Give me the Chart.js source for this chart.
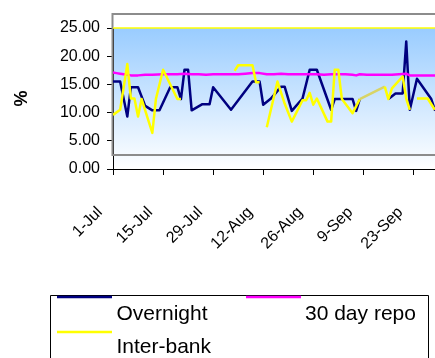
<!DOCTYPE html>
<html>
<head>
<meta charset="utf-8">
<script src="https://cdn.jsdelivr.net/npm/chart.js@4.4.1/dist/chart.umd.min.js"></script>
<style>
  html, body { margin: 0; padding: 0; background: #fff; overflow: hidden; width: 435px; height: 358px; }
  #wrap { position: relative; width: 442px; height: 358px; }
</style>
</head>
<body>
<div id="wrap"><canvas id="rates"></canvas></div>
<script>
// Axis labels, every 14 days starting 1 July
const tickLabels = ['1-Jul', '15-Jul', '29-Jul', '12-Aug', '26-Aug', '9-Sep', '23-Sep'];
const seriesNames = ['Overnight', '30 day repo', 'Inter-bank'];
const seriesColors = ['#000080', '#FF00FF', '#FFFF00'];

// Days counted from 1 July; null = no quote
const overnightDays = [0, 2, 4, 5, 7, 9, 11, 13, 16, 18, 19, 20, 21, 22, 25, 27, 28, 33, 39, 41, 42, 44, 45, 47, 48, 50, 53, 55, 57, 61, 62, 67, 68, 69, 73, 77, 79, 81, 82, 83, 85, 89, 90, 91];
const overnightRates = [15.5, 15.5, 9.3, 14.5, 14.5, 11.2, 10.4, 10.4, 14.5, 14.5, 12.4, 17.6, 17.6, 10.4, 11.5, 11.5, 14.5, 10.5, 15.5, 15.5, 11.4, 12.4, 13.1, 14.6, 14.6, 10.3, 12.5, 17.6, 17.6, 10.5, 12.4, 12.4, 10.3, 12.4, null, 12.4, 13.4, 13.4, 22.6, 10.5, 16.0, 12.4, 10.5, 10.3];

const repoDays = [0, 1, 2, 3, 4, 5, 7, 9, 11, 14, 16, 18, 20, 22, 24, 26, 28, 30, 32, 35, 37, 39, 41, 43, 45, 47, 49, 51, 53, 55, 57, 59, 61, 63, 65, 67, 68, 69, 71, 74, 76, 78, 80, 82, 83, 85, 88, 91];
const repoRates = [17.1, 17.0, 16.9, 16.8, 16.7, 16.6, 16.6, 16.7, 16.7, 16.8, 16.8, 16.8, 16.9, 16.8, 16.8, 16.7, 16.8, 16.8, 16.8, 16.8, 16.9, 17.0, 17.0, 16.8, 16.8, 16.9, 16.8, 16.8, 16.8, 16.8, 16.8, 16.7, 16.8, 16.8, 16.8, 16.7, 16.6, 16.8, 16.7, 16.7, 16.7, 16.7, 16.8, 16.9, 16.6, 16.6, 16.6, 16.6];

const interbankDays = [0, 2, 4, 5, 6, 7, 8, 11, 12, 14, 18, 19, 26, 34, 35, 39, 40, 41, 42, 43, 46, 48, 50, 53, 54, 55, 56, 57, 60, 61, 62, 63, 64, 67, 69, 76, 77, 78, 81, 82, 83, 84, 85, 88, 90];
const interbankRates = [9.6, 10.5, 18.6, 12.5, 12.5, 9.3, 12.4, 6.4, 12.4, 17.6, 12.4, 12.4, null, 17.4, 18.4, 18.4, 15.4, 15.4, null, 7.4, 15.5, 11.6, 8.4, 12.2, 12.2, 13.5, 11.4, 12.5, 8.4, 8.4, 17.6, 17.6, 12.4, 9.9, 12.4, 14.6, 12.4, 14.3, 16.4, 12.5, 10.5, null, 12.5, 12.5, 10.5];

const FONT = "'Liberation Sans', Arial, sans-serif";
Chart.defaults.font.family = FONT;
Chart.defaults.color = '#000';

const toPoints = (days, vals) => days.map((d, i) => ({ x: d, y: vals[i] }));

// Plot background, frame and legend
const decor = {
  id: 'decor',
  beforeDraw(chart) {
    const { ctx, chartArea: a, scales: { y } } = chart;
    const top = y.getPixelForValue(25), bottom = y.getPixelForValue(0);
    const g = ctx.createLinearGradient(0, top, 0, bottom);
    g.addColorStop(0, '#99CCFF');
    g.addColorStop(1, '#FFFFFF');
    ctx.save();
    ctx.fillStyle = g;
    ctx.fillRect(a.left, top, a.right - a.left, bottom - top);
    ctx.restore();
  },
  beforeDatasetsDraw(chart) {
    const { ctx, chartArea: a, scales: { y } } = chart;
    const fTop = y.getPixelForValue(27.5), fBottom = y.getPixelForValue(2.5);
    ctx.save();
    ctx.strokeStyle = '#8C8C8C';
    ctx.lineWidth = 2;
    ctx.beginPath();
    ctx.moveTo(a.right + 10, fTop);
    ctx.lineTo(a.left - 0.5, fTop);
    ctx.lineTo(a.left - 0.5, fBottom);
    ctx.lineTo(a.right + 10, fBottom);
    ctx.stroke();
    const y25 = y.getPixelForValue(25);
    ctx.strokeStyle = '#FFFF00';
    ctx.lineWidth = 1.5;
    ctx.beginPath();
    ctx.moveTo(a.left, y25);
    ctx.lineTo(a.right, y25);
    ctx.stroke();
    ctx.restore();
  },
  afterDraw(chart) {
    const { ctx } = chart;
    const H = chart.height;
    ctx.save();
    ctx.strokeStyle = '#000';
    ctx.lineWidth = 1;
    ctx.beginPath();
    ctx.moveTo(50.5, H + 5);
    ctx.lineTo(50.5, 295.5);
    ctx.lineTo(428.5, 295.5);
    ctx.lineTo(428.5, H + 5);
    ctx.stroke();
    const slots = [
      { ds: 0, lx: 57, ly: 297, tx: 116.5, ty: 320 },
      { ds: 1, lx: 246, ly: 297, tx: 305, ty: 320 },
      { ds: 2, lx: 57, ly: 332, tx: 116.5, ty: 353 }
    ];
    ctx.font = '21px ' + FONT;
    ctx.textBaseline = 'alphabetic';
    ctx.textAlign = 'left';
    slots.forEach(s => {
      const d = chart.data.datasets[s.ds];
      ctx.strokeStyle = d.borderColor;
      ctx.lineWidth = 2.5;
      ctx.beginPath();
      ctx.moveTo(s.lx, s.ly);
      ctx.lineTo(s.lx + 55, s.ly);
      ctx.stroke();
      ctx.fillStyle = '#000';
      ctx.fillText(d.label, s.tx, s.ty);
    });
    ctx.restore();
  }
};

const lineStyle = { borderWidth: 2.5, pointRadius: 0, tension: 0, spanGaps: false, borderJoinStyle: 'round', fill: false };

new Chart(document.getElementById('rates'), {
  type: 'line',
  data: {
    datasets: [
      { label: seriesNames[0], data: toPoints(overnightDays, overnightRates), borderColor: seriesColors[0], order: 2, ...lineStyle },
      { label: seriesNames[1], data: toPoints(repoDays, repoRates), borderColor: seriesColors[1], order: 1, ...lineStyle },
      { label: seriesNames[2], data: toPoints(interbankDays, interbankRates), borderColor: seriesColors[2], order: 0, ...lineStyle,
        segment: { borderColor: c => (c.p1.parsed.x - c.p0.parsed.x > 4 ? '#D8D466' : undefined) } }
    ]
  },
  options: {
    responsive: true,
    maintainAspectRatio: false,
    animation: false,
    events: [],
    layout: { padding: { top: 28, left: 0, right: 0, bottom: 0 } },
    plugins: { legend: { display: false }, tooltip: { enabled: false } },
    scales: {
      x: {
        type: 'linear',
        min: 0,
        max: 92,
        afterBuildTicks: s => { s.ticks = tickLabels.map((_, i) => ({ value: i * 14 })); },
        afterFit: s => { s.height = 189; s.paddingLeft = 0; s.paddingRight = 0; },
        grid: { drawOnChartArea: false, drawTicks: true, tickLength: 6, color: '#000' },
        border: { display: true, color: '#000', width: 1 },
        ticks: {
          autoSkip: false, minRotation: 45, maxRotation: 45,
          padding: 28, labelOffset: -13,
          font: { size: 16 }, color: '#000',
          callback: v => tickLabels[Math.round(v / 14)]
        }
      },
      y: {
        min: 0,
        max: 25,
        afterFit: s => { s.width = 113; },
        grid: { drawOnChartArea: false, drawTicks: true, tickLength: 6, color: '#000' },
        border: { display: true, color: '#000', width: 1 },
        ticks: { stepSize: 5, padding: 7, font: { size: 16 }, color: '#000', callback: v => v.toFixed(2) },
        title: { display: true, text: '%', font: { size: 18, weight: 'bold' }, color: '#000', padding: { top: 11, bottom: 0 } }
      }
    }
  },
  plugins: [decor]
});
</script>
</body>
</html>
